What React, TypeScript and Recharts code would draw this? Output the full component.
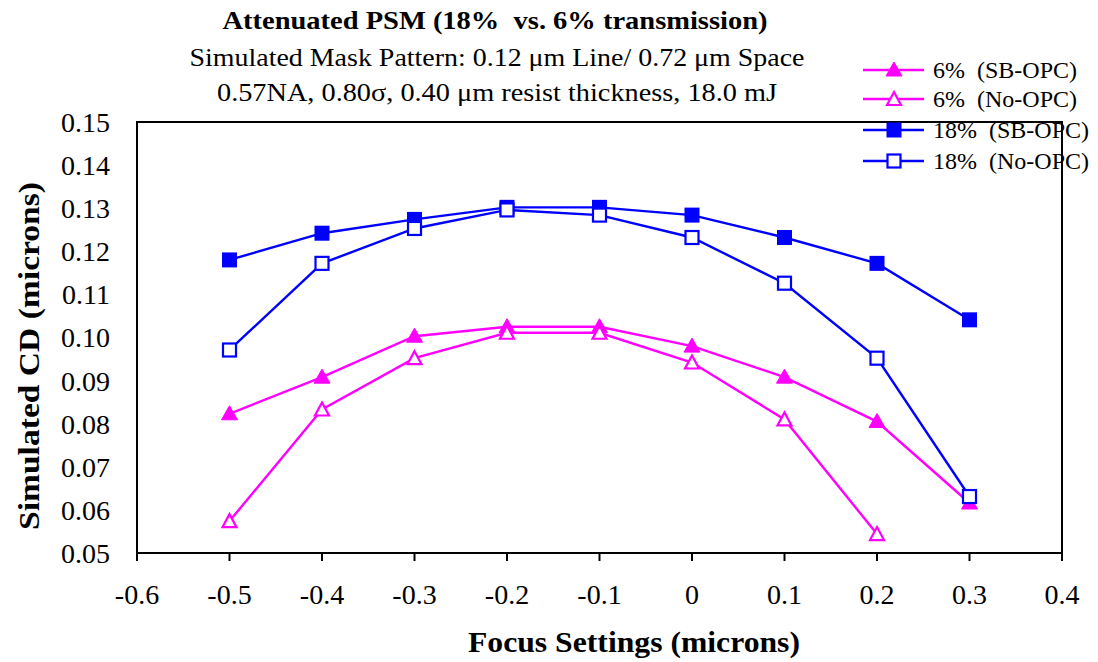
import React from 'react';
import { LineChart, Line, XAxis, YAxis, ReferenceArea } from 'recharts';

const focus = [-0.5, -0.4, -0.3, -0.2, -0.1, 0, 0.1, 0.2, 0.3];
const sb6 = [0.0823, 0.0908, 0.1003, 0.1025, 0.1025, 0.098, 0.0908, 0.0805, 0.0616];
const no6 = [0.0574, 0.0833, 0.0952, 0.1011, 0.1011, 0.0942, 0.081, 0.0544, null];
const sb18 = [0.118, 0.1242, 0.1274, 0.1302, 0.1302, 0.1284, 0.1232, 0.1172, 0.1041];
const no18 = [0.0971, 0.1172, 0.1253, 0.1296, 0.1284, 0.1232, 0.1126, 0.0952, 0.0631];

const xTicks = [-0.6, -0.5, -0.4, -0.3, -0.2, -0.1, 0, 0.1, 0.2, 0.3, 0.4];
const yTicks = [0.05, 0.06, 0.07, 0.08, 0.09, 0.1, 0.11, 0.12, 0.13, 0.14, 0.15];

const MAGENTA = '#ff00ff';
const BLUE = '#0000ff';
const FONT = "'Liberation Serif', serif";
const SP2 = '\u00a0\u00a0';

type Shape = 'triFilled' | 'triOpen' | 'sqFilled' | 'sqOpen';

const series: { key: string; name: string; color: string; shape: Shape; values: (number | null)[] }[] = [
  { key: 'sb6', name: `6%${SP2}(SB-OPC)`, color: MAGENTA, shape: 'triFilled', values: sb6 },
  { key: 'no6', name: `6%${SP2}(No-OPC)`, color: MAGENTA, shape: 'triOpen', values: no6 },
  { key: 'sb18', name: `18%${SP2}(SB-OPC)`, color: BLUE, shape: 'sqFilled', values: sb18 },
  { key: 'no18', name: `18%${SP2}(No-OPC)`, color: BLUE, shape: 'sqOpen', values: no18 },
];

const data = focus.map((f, i) => {
  const row: Record<string, number | null> = { focus: f };
  series.forEach((s) => {
    row[s.key] = s.values[i];
  });
  return row;
});

const marker = (shape: Shape, color: string, cx: number, cy: number, key?: string | number) => {
  switch (shape) {
    case 'triFilled':
      return (
        <polygon key={key} points={`${cx},${cy - 8} ${cx + 8},${cy + 6} ${cx - 8},${cy + 6}`} fill={color} stroke={color} strokeWidth={1} />
      );
    case 'triOpen':
      return (
        <polygon key={key} points={`${cx},${cy - 7} ${cx + 7},${cy + 6} ${cx - 7},${cy + 6}`} fill="#fff" stroke={color} strokeWidth={2.2} />
      );
    case 'sqFilled':
      return <rect key={key} x={cx - 7.5} y={cy - 7.5} width={15} height={15} fill={color} />;
    default:
      return <rect key={key} x={cx - 6.5} y={cy - 6.5} width={13} height={13} fill="#fff" stroke={color} strokeWidth={2.2} />;
  }
};

const dotFor = (shape: Shape, color: string) => (props: any) => {
  const { cx, cy, index } = props;
  if (cx == null || cy == null || props.value == null) return <g key={`d-${index}`} />;
  return marker(shape, color, cx, cy, `d-${index}`);
};

const fmtX = (v: number) => (Math.abs(v) < 1e-9 ? '0' : v.toFixed(1));
const fmtY = (v: number) => v.toFixed(2);

export default function App() {
  return (
    <div style={{ position: 'absolute', left: 0, top: 0, width: 1098, height: 662, background: '#fff', fontFamily: FONT }}>
      <LineChart width={1098} height={662} data={data} margin={{ top: 122, right: 36, bottom: 49, left: 77 }}>
        <ReferenceArea x1={-0.6} x2={0.4} y1={0.05} y2={0.15} fill="none" stroke="#000" strokeWidth={2} ifOverflow="visible" />
        <XAxis
          type="number"
          dataKey="focus"
          domain={[-0.6, 0.4]}
          ticks={xTicks}
          tickFormatter={fmtX}
          height={60}
          tickSize={8}
          tickMargin={23}
          axisLine={{ stroke: '#000', strokeWidth: 2 }}
          tickLine={{ stroke: '#000', strokeWidth: 2 }}
          tick={{ fill: '#000', fontSize: 28, fontFamily: FONT }}
          allowDataOverflow
        />
        <YAxis
          type="number"
          domain={[0.05, 0.15]}
          ticks={yTicks}
          tickFormatter={fmtY}
          width={60}
          tickLine={false}
          tickSize={6}
          tickMargin={21}
          axisLine={{ stroke: '#000', strokeWidth: 2 }}
          tick={{ fill: '#000', fontSize: 28, fontFamily: FONT }}
          allowDataOverflow
        />
        {series.map((s) => (
          <Line
            key={s.key}
            type="linear"
            dataKey={s.key}
            name={s.name}
            stroke={s.color}
            strokeWidth={2.4}
            dot={dotFor(s.shape, s.color)}
            activeDot={false}
            connectNulls={false}
            isAnimationActive={false}
          />
        ))}
      </LineChart>

      {/* titles, axis captions and legend */}
      <svg width={1098} height={662} style={{ position: 'absolute', left: 0, top: 0, pointerEvents: 'none' }}>
        <g fontFamily={FONT} fill="#000">
          <text x={495} y={29} textAnchor="middle" fontSize={26} fontWeight="bold" textLength={545} lengthAdjust="spacingAndGlyphs">
            {`Attenuated PSM (18%${SP2}vs. 6% transmission)`}
          </text>
          <text x={497} y={66} textAnchor="middle" fontSize={26} textLength={615} lengthAdjust="spacingAndGlyphs">
            Simulated Mask Pattern: 0.12 μm Line/ 0.72 μm Space
          </text>
          <text x={497} y={101} textAnchor="middle" fontSize={26} textLength={560} lengthAdjust="spacingAndGlyphs">
            0.57NA, 0.80σ, 0.40 μm resist thickness, 18.0 mJ
          </text>
          <text x={634} y={652} textAnchor="middle" fontSize={29} fontWeight="bold" textLength={332} lengthAdjust="spacingAndGlyphs">
            Focus Settings (microns)
          </text>
          <text
            x={0}
            y={0}
            transform="translate(39,356) rotate(-90)"
            textAnchor="middle"
            fontSize={29}
            fontWeight="bold"
            textLength={348}
            lengthAdjust="spacingAndGlyphs"
          >
            Simulated CD (microns)
          </text>
        </g>
        {series.map((s, i) => {
          const y = [70, 99, 130, 161][i];
          return (
            <g key={s.key}>
              <line x1={863} x2={924} y1={y} y2={y} stroke={s.color} strokeWidth={2.4} />
              {marker(s.shape, s.color, 894, y)}
              <text x={933} y={y + 8} fontFamily={FONT} fontSize={24} fill="#000">
                {s.name}
              </text>
            </g>
          );
        })}
      </svg>
    </div>
  );
}
